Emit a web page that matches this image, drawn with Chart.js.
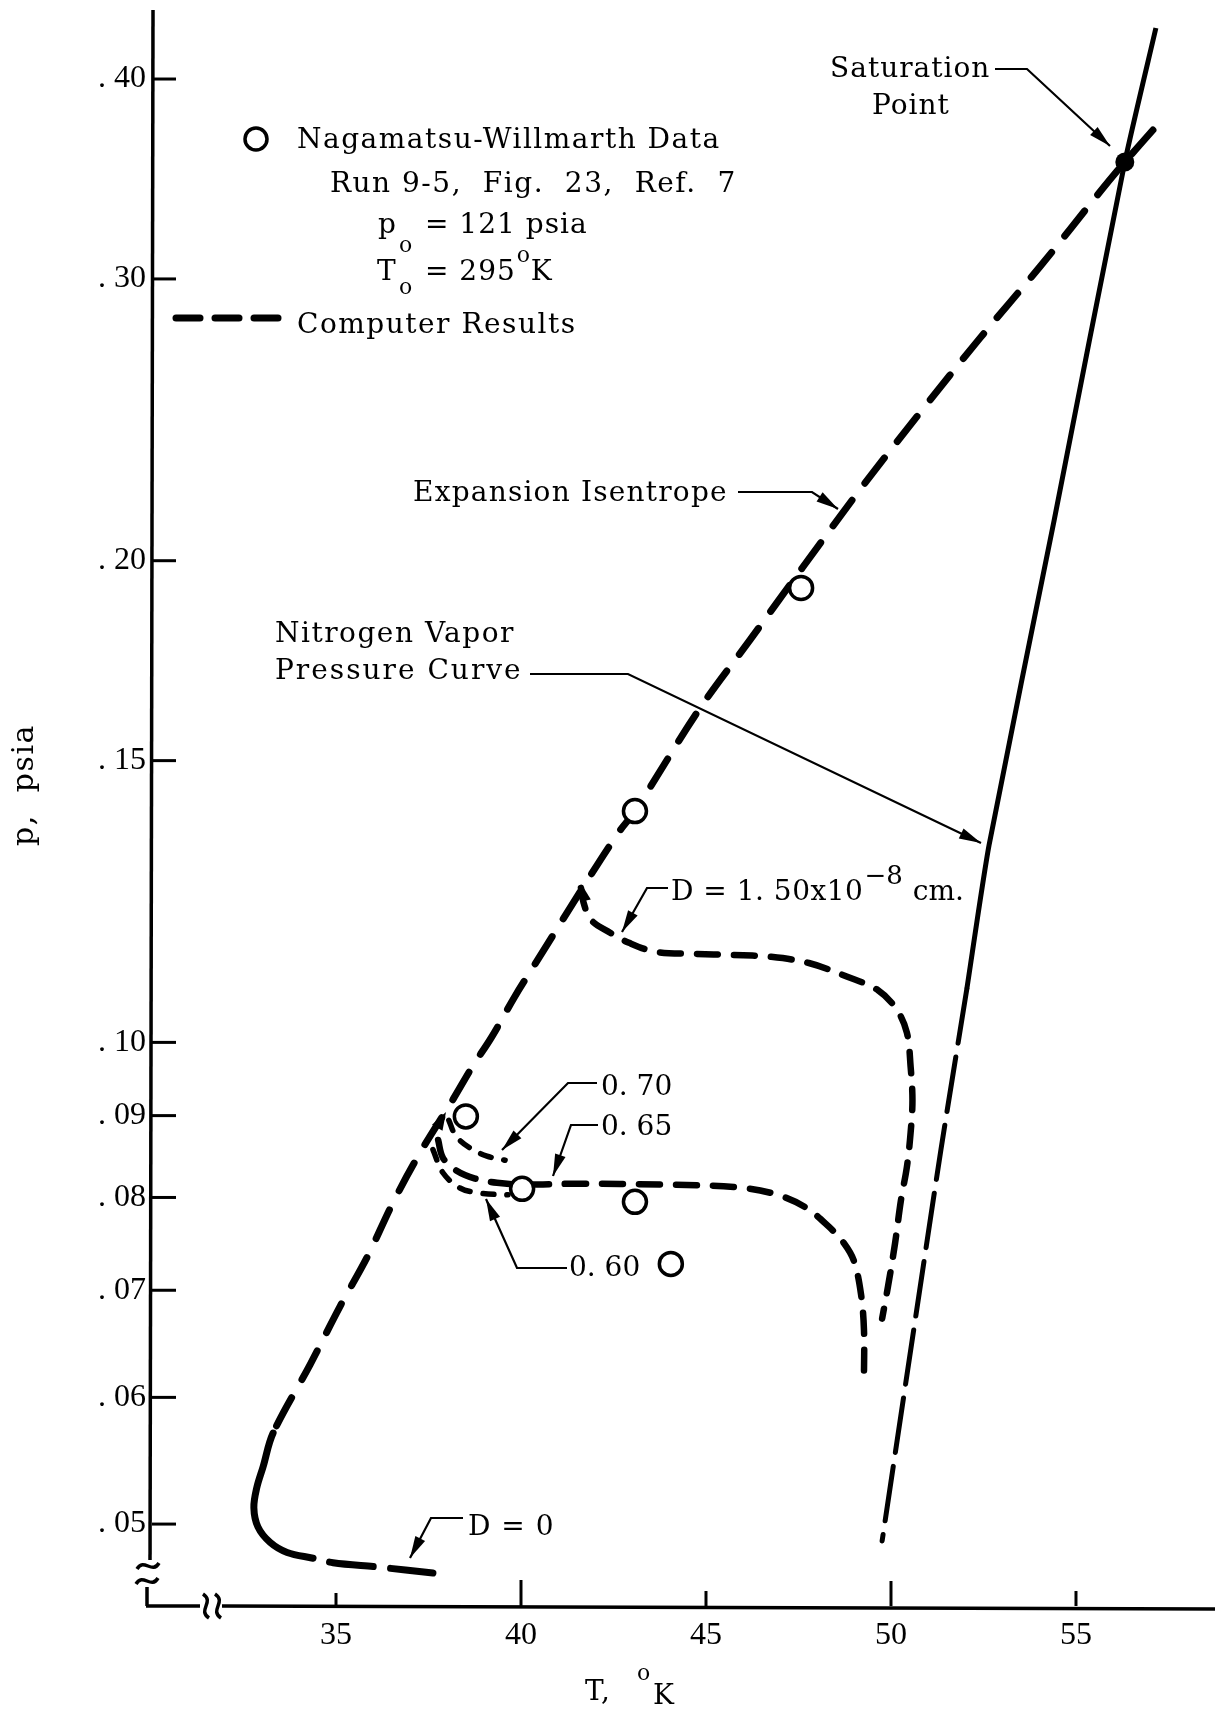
<!DOCTYPE html>
<html>
<head>
<meta charset="utf-8">
<script src="https://cdn.jsdelivr.net/npm/chart.js@4.4.1/dist/chart.umd.min.js"></script>
<style>
  html, body { margin: 0; padding: 0; background: #fff; }
  canvas { display: block; }
</style>
</head>
<body>
<canvas id="nitrogenChart" width="1226" height="1713"></canvas>
<script>
// Values: T in deg K, p in psia
const isentropeT = [57.08, 56.32, 55.65, 54.03, 52.41, 50.78, 49.16, 47.60, 46.20, 44.81, 43.08, 42.62, 41.58, 40.45,
  39.83, 39.21, 38.69, 38.16, 37.27, 36.54, 35.84, 35.11, 34.30, 33.30, 33.03, 32.86, 32.78, 32.89, 33.22,
  33.68, 34.38, 34.92, 36.14, 37.62];
const isentropeP = [0.3717, 0.355, 0.3401, 0.3054, 0.2756, 0.2474, 0.2215, 0.1979, 0.1786, 0.1614, 0.1395, 0.1351,
  0.1240, 0.1126, 0.1068, 0.1008, 0.0966, 0.0921, 0.0853, 0.0794, 0.0734, 0.0684, 0.0629, 0.0570, 0.0543,
  0.0527, 0.0512, 0.0498, 0.0487, 0.0480, 0.0476, 0.0473, 0.0470, 0.0466];

const d150T = [41.62, 41.69, 41.89, 42.41, 42.92, 43.65, 44.68, 45.73, 46.76, 47.78, 48.82, 49.65, 50.16, 50.43,
  50.53, 50.58, 50.53, 50.43, 50.27, 50.11, 49.92, 49.76];
const d150P = [0.1249, 0.1223, 0.1193, 0.1171, 0.1154, 0.1139, 0.1136, 0.1134, 0.1131, 0.1121, 0.1099, 0.1078,
  0.1048, 0.1014, 0.0966, 0.0920, 0.0878, 0.0836, 0.0797, 0.0749, 0.0704, 0.0672];

const d070T = [38.05, 38.24, 38.62, 39.08, 39.57];
const d070P = [0.0894, 0.0874, 0.0859, 0.0849, 0.0844];

const d065T = [37.76, 37.89, 38.24, 38.76, 39.35, 40.03, 41.59, 43.76, 45.81, 46.86, 47.68, 48.32, 48.73, 49.00,
  49.19, 49.27, 49.27];
const d065P = [0.0869, 0.0847, 0.0832, 0.0822, 0.0817, 0.0815, 0.0816, 0.0815, 0.0812, 0.0804, 0.0789, 0.0767,
  0.0749, 0.0730, 0.0696, 0.0661, 0.0619];

const d060T = [37.62, 37.89, 38.35, 38.89, 39.65];
const d060P = [0.0857, 0.0829, 0.0811, 0.0805, 0.0803];

// nitrogen vapor pressure curve, solid upper part and broken lower part
const vaporT = [57.16, 56.32, 54.41, 52.65, 52.05];
const vaporP = [0.4305, 0.355, 0.212, 0.1328, 0.1080];
const vaporDashT = [52.05, 51.35, 50.46, 49.76];
const vaporDashP = [0.1080, 0.0857, 0.0626, 0.0488];

// Nagamatsu-Willmarth data, run 9-5
const nwT = [47.57, 43.08, 38.51, 40.03, 43.08, 44.05];
const nwP = [0.1923, 0.1395, 0.0899, 0.0810, 0.0795, 0.0727];

const satT = [56.32];
const satP = [0.355];

const xTicks = [35, 40, 45, 50, 55];
const yTicks = [0.05, 0.06, 0.07, 0.08, 0.09, 0.10, 0.15, 0.20, 0.30, 0.40];
const xTickLen = [13, 26, 15, 25, 15];

const serif = '"DejaVu Serif", "Liberation Serif", serif';
const digits = '"Liberation Serif", "DejaVu Serif", serif';

const toPoints = (xs, ys) => xs.map((t, i) => ({ x: t, y: ys[i] }));

function curve(label, xs, ys, width, dash, extra) {
    return Object.assign({
        label: label,
        data: toPoints(xs, ys),
        showLine: true,
        fill: false,
        pointRadius: 0,
        borderColor: '#000',
        borderWidth: width,
        borderDash: dash,
        borderCapStyle: 'round',
        borderJoinStyle: 'round',
        tension: 0.35,
        order: 2
    }, extra || {});
}

// little drawing helpers for the plugin
function poly(ctx, pts) {
    ctx.beginPath();
    ctx.moveTo(pts[0][0], pts[0][1]);
    for (let i = 1; i < pts.length; i++) ctx.lineTo(pts[i][0], pts[i][1]);
    ctx.stroke();
}

function head(ctx, fx, fy, tx, ty, len, half) {
    const a = Math.atan2(ty - fy, tx - fx);
    const bx = tx - len * Math.cos(a), by = ty - len * Math.sin(a);
    ctx.beginPath();
    ctx.moveTo(tx, ty);
    ctx.lineTo(bx + half * Math.sin(a), by - half * Math.cos(a));
    ctx.lineTo(bx - half * Math.sin(a), by + half * Math.cos(a));
    ctx.closePath();
    ctx.fill();
}

function leader(ctx, pts) {
    poly(ctx, pts);
    const n = pts.length;
    head(ctx, pts[n - 2][0], pts[n - 2][1], pts[n - 1][0], pts[n - 1][1], 22, 5.5);
}

function put(ctx, s, x, y, size, spacing) {
    ctx.font = (size || 28) + 'px ' + serif;
    ctx.letterSpacing = (spacing === undefined ? 1.5 : spacing) + 'px';
    ctx.fillText(s, x, y);
    return x + ctx.measureText(s).width;
}

function waveH(ctx, cx, cy) {
    ctx.beginPath();
    ctx.moveTo(cx - 11, cy + 3);
    ctx.bezierCurveTo(cx - 4, cy - 9, cx + 4, cy + 9, cx + 11, cy - 3);
    ctx.stroke();
}

function waveV(ctx, cx, cy) {
    ctx.beginPath();
    ctx.moveTo(cx - 3, cy - 12);
    ctx.bezierCurveTo(cx + 9, cy - 4, cx - 9, cy + 4, cx + 3, cy + 12);
    ctx.stroke();
}

function noPad(s) {
    s.paddingTop = 0;
    s.paddingBottom = 0;
    s.paddingLeft = 0;
    s.paddingRight = 0;
}

const paperAxes = {
    id: 'paperAxes',
    beforeDatasetsDraw(chart) {
        const { ctx, chartArea: a, scales: { x, y } } = chart;
        ctx.save();
        ctx.strokeStyle = '#000';
        ctx.lineWidth = 3.5;
        // broken y axis (runs a little above the plot box, as on the paper)
        poly(ctx, [[a.left + 1, a.top - 5], [a.left - 2, a.bottom - 46]]);
        waveH(ctx, a.left - 4, a.bottom - 40);
        waveH(ctx, a.left - 5, a.bottom - 25);
        poly(ctx, [[a.left - 5, a.bottom - 19], [a.left - 5, a.bottom]]);
        // broken x axis
        poly(ctx, [[a.left - 6, a.bottom], [a.left + 48, a.bottom]]);
        waveV(ctx, a.left + 54, a.bottom);
        waveV(ctx, a.left + 66, a.bottom);
        poly(ctx, [[a.left + 70, a.bottom], [a.right + 4, a.bottom + 3]]);
        // tick marks point into the plot
        ctx.lineWidth = 3;
        yTicks.forEach(v => {
            const py = y.getPixelForValue(v);
            poly(ctx, [[a.left, py], [a.left + 24, py]]);
        });
        xTicks.forEach((v, i) => {
            const px = x.getPixelForValue(v);
            poly(ctx, [[px, a.bottom], [px, a.bottom - xTickLen[i]]]);
        });
        ctx.restore();
    },
    afterDatasetsDraw(chart) {
        const { ctx } = chart;
        ctx.save();
        ctx.fillStyle = '#000';
        ctx.strokeStyle = '#000';
        ctx.textBaseline = 'alphabetic';
        ctx.textAlign = 'left';

        // key
        ctx.lineWidth = 3.5;
        ctx.beginPath();
        ctx.arc(256, 139, 11, 0, Math.PI * 2);
        ctx.stroke();
        put(ctx, 'Nagamatsu-Willmarth Data', 297, 148);
        put(ctx, 'Run 9-5,  Fig.  23,  Ref.  7', 330, 192);
        put(ctx, 'p', 378, 233);
        put(ctx, 'o', 399, 252, 22, 0);
        put(ctx, '= 121 psia', 425, 233, 28, 1);
        put(ctx, 'T', 377, 280);
        put(ctx, 'o', 399, 294, 22, 0);
        let e = put(ctx, '= 295', 425, 280, 28, 1);
        put(ctx, 'o', e + 1, 262, 22, 0);
        put(ctx, 'K', e + 15, 280);
        ctx.lineWidth = 7;
        ctx.lineCap = 'round';
        [[176, 200], [215, 239], [254, 278]].forEach(d => poly(ctx, [[d[0], 318], [d[1], 318]]));
        ctx.lineCap = 'butt';
        put(ctx, 'Computer Results', 297, 333);

        // labels on the curves
        put(ctx, 'Saturation', 830, 77, 28, 1);
        put(ctx, 'Point', 872, 114, 28, 1);
        put(ctx, 'Expansion Isentrope', 413, 501, 28, 1.2);
        put(ctx, 'Nitrogen Vapor', 275, 642);
        put(ctx, 'Pressure Curve', 275, 679, 28, 2);
        e = put(ctx, 'D = 1. 50x10', 671, 900, 28, 0.5);
        e = put(ctx, '\u22128', e + 1, 884, 26, 0);
        put(ctx, 'cm.', e + 10, 900, 28, 0);
        put(ctx, '0. 70', 601, 1095, 28, 0);
        put(ctx, '0. 65', 601, 1135, 28, 0);
        put(ctx, '0. 60', 569, 1276, 28, 0);
        put(ctx, 'D = 0', 468, 1535, 28, 1);

        // leaders
        ctx.lineWidth = 2.2;
        leader(ctx, [[995, 69], [1027, 69], [1110, 146]]);
        leader(ctx, [[738, 492], [812, 492], [838, 509]]);
        leader(ctx, [[530, 674], [628, 674], [981, 843]]);
        leader(ctx, [[668, 888], [647, 888], [622, 932]]);
        leader(ctx, [[597, 1083], [568, 1083], [502, 1150]]);
        leader(ctx, [[598, 1125], [571, 1125], [553, 1176]]);
        leader(ctx, [[567, 1268], [517, 1268], [486, 1199]]);
        leader(ctx, [[463, 1518], [431, 1518], [410, 1558]]);
        // direction marks where the branches leave the isentrope
        head(ctx, 436, 1130, 446, 1112, 18, 6);
        head(ctx, 586, 903, 582, 885, 16, 5.5);

        // axis titles
        put(ctx, 'T,', 585, 1700);
        put(ctx, 'o', 637, 1680, 22, 0);
        put(ctx, 'K', 653, 1704);
        ctx.translate(33, 785);
        ctx.rotate(-Math.PI / 2);
        ctx.textAlign = 'center';
        ctx.font = '30px ' + serif;
        ctx.letterSpacing = '1.5px';
        ctx.fillText('p,  psia', 0, 0);
        ctx.restore();
    }
};

const chartCtx = document.getElementById('nitrogenChart').getContext('2d');
const nitrogenChart = new Chart(chartCtx, {
    type: 'scatter',
    data: {
        datasets: [
            {
                label: 'Nagamatsu-Willmarth Data',
                data: toPoints(nwT, nwP),
                showLine: false,
                pointRadius: 11.5,
                pointBorderWidth: 3.5,
                pointBackgroundColor: '#fff',
                pointBorderColor: '#000',
                order: 0
            },
            {
                label: 'Saturation Point',
                data: toPoints(satT, satP),
                showLine: false,
                pointRadius: 9.5,
                pointBorderWidth: 0,
                pointBackgroundColor: '#000',
                order: 0
            },
            curve('Expansion Isentrope (D = 0)', isentropeT, isentropeP, 7, [32, 21], {
                segment: {
                    // the nose near 33 K is one long stroke, then two dashes to the end
                    borderDash: c => {
                        const a = c.p0.parsed, b = c.p1.parsed;
                        if (a.y <= 0.0571 && b.y <= 0.0571 && a.x <= 34.39 && b.x <= 34.39) return [];
                        if (a.y < 0.0477 && a.x >= 34.38) return [44, 17];
                        return undefined;
                    },
                    borderDashOffset: c => (c.p0.parsed.y < 0.0477 && c.p0.parsed.x >= 34.38 ? 44 : undefined)
                }
            }),
            curve('D = 1.50x10^-8 cm', d150T, d150P, 6.5, [21, 16]),
            curve('D = 0.70', d070T, d070P, 5.5, [11, 13]),
            curve('D = 0.65', d065T, d065P, 6.5, [21, 16]),
            curve('D = 0.60', d060T, d060P, 5.5, [11, 13]),
            curve('Nitrogen Vapor Pressure Curve', vaporT, vaporP, 5, [], { tension: 0.2, borderCapStyle: 'butt' }),
            curve('Nitrogen Vapor Pressure Curve (lower)', vaporDashT, vaporDashP, 5, [55, 14], { tension: 0.2 })
        ]
    },
    options: {
        responsive: false,
        animation: false,
        devicePixelRatio: 1,
        events: [],
        layout: { padding: { left: 0, right: 11, top: 10, bottom: 0 } },
        plugins: {
            legend: { display: false },
            tooltip: { enabled: false }
        },
        scales: {
            x: {
                type: 'linear',
                min: 30.027,
                max: 58.649,
                afterBuildTicks: s => { s.ticks = xTicks.map(v => ({ value: v })); },
                afterFit: s => { s.height = 107; noPad(s); },
                grid: { display: false, drawTicks: false },
                border: { display: false },
                ticks: {
                    color: '#000',
                    font: { family: digits, size: 32 },
                    padding: 10,
                    maxRotation: 0,
                    autoSkip: false,
                    callback: v => String(v)
                }
            },
            y: {
                type: 'logarithmic',
                min: 0.04444,
                max: 0.4386,
                afterBuildTicks: s => { s.ticks = yTicks.map(v => ({ value: v })); },
                afterFit: s => { s.width = 152; noPad(s); },
                grid: { display: false, drawTicks: false },
                border: { display: false },
                ticks: {
                    color: '#000',
                    font: { family: digits, size: 32 },
                    padding: 6,
                    autoSkip: false,
                    callback: v => '. ' + String(Math.round(v * 100)).padStart(2, '0')
                }
            }
        }
    },
    plugins: [paperAxes]
});
</script>
</body>
</html>
